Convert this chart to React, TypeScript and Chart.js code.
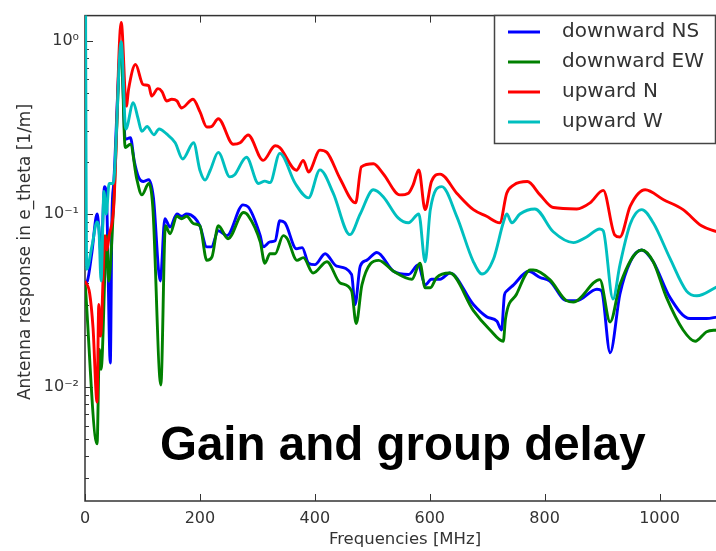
import React, { useEffect, useRef } from 'react';
import { Chart, registerables } from 'chart.js';

Chart.register(...registerables);

// ---- data (frequency in MHz, response in 1/m) ----
const nsFreq = [0, 4, 12, 21, 24, 28, 34, 38, 44, 47, 50, 63, 70, 79, 86, 93, 102, 111, 119, 131, 139, 148, 160, 168, 177, 191, 200, 212, 220, 232, 247, 275, 284, 305, 310, 322, 331, 339, 348, 368, 378, 389, 400, 418, 438, 464, 470, 479, 490, 508, 537, 563, 580, 592, 603, 618, 635, 676, 699, 717, 725, 730, 734, 746, 772, 792, 809, 838, 856, 891, 899, 914, 931, 949, 969, 989, 1018, 1053, 1082, 1100];
const nsVal = [0.04, 0.041, 0.06, 0.1, 0.085, 0.058, 0.144, 0.11, 0.0138, 0.1, 0.15, 0.95, 0.27, 0.276, 0.2, 0.164, 0.154, 0.158, 0.125, 0.041, 0.094, 0.084, 0.1, 0.097, 0.1, 0.095, 0.0855, 0.0646, 0.0646, 0.08, 0.075, 0.113, 0.11, 0.075, 0.0646, 0.069, 0.07, 0.0914, 0.089, 0.063, 0.064, 0.052, 0.051, 0.059, 0.05, 0.0447, 0.03, 0.05, 0.054, 0.06, 0.0467, 0.0447, 0.0508, 0.039, 0.042, 0.042, 0.0456, 0.03, 0.0255, 0.024, 0.0214, 0.034, 0.0359, 0.039, 0.0467, 0.043, 0.041, 0.0316, 0.0316, 0.0368, 0.036, 0.0158, 0.0344, 0.053, 0.062, 0.053, 0.033, 0.0249, 0.0249, 0.0254];

const ewFreq = [0, 21, 25, 28, 38, 41, 50, 63, 70, 79, 90, 99, 111, 118, 132, 140, 148, 160, 168, 177, 189, 200, 212, 221, 232, 249, 276, 284, 305, 313, 322, 331, 345, 352, 369, 380, 397, 421, 444, 464, 472, 482, 511, 537, 569, 583, 592, 601, 612, 635, 676, 705, 728, 732, 751, 775, 780, 809, 838, 850, 896, 914, 931, 969, 989, 1012, 1041, 1062, 1082, 1100];
const ewVal = [0.041, 0.0047, 0.0165, 0.0127, 0.075, 0.041, 0.116, 0.92, 0.242, 0.253, 0.16, 0.129, 0.15, 0.11, 0.0103, 0.0855, 0.077, 0.097, 0.094, 0.097, 0.088, 0.0855, 0.054, 0.0566, 0.0855, 0.072, 0.102, 0.098, 0.069, 0.052, 0.059, 0.059, 0.075, 0.072, 0.054, 0.056, 0.0456, 0.053, 0.04, 0.036, 0.0233, 0.039, 0.054, 0.0467, 0.042, 0.052, 0.0375, 0.0375, 0.043, 0.0456, 0.0277, 0.0214, 0.0184, 0.025, 0.0344, 0.0475, 0.0475, 0.0418, 0.0316, 0.031, 0.0418, 0.0238, 0.039, 0.062, 0.053, 0.033, 0.0214, 0.0184, 0.0209, 0.0214];

const upNFreq = [0, 8, 14, 21, 24, 27, 35, 38, 42, 50, 63, 72, 76, 88, 101, 111, 116, 127, 134, 142, 151, 160, 168, 188, 200, 212, 220, 232, 258, 270, 284, 310, 331, 339, 368, 380, 389, 409, 421, 444, 471, 481, 502, 519, 548, 563, 571, 581, 592, 603, 618, 647, 676, 699, 722, 734, 746, 770, 792, 815, 856, 879, 902, 922, 931, 949, 975, 1007, 1041, 1073, 1100];
const upNVal = [0.041, 0.035, 0.022, 0.0082, 0.03, 0.0197, 0.075, 0.062, 0.075, 0.11, 1.28, 0.42, 0.53, 0.73, 0.56, 0.55, 0.48, 0.53, 0.51, 0.45, 0.46, 0.45, 0.41, 0.46, 0.39, 0.318, 0.32, 0.355, 0.253, 0.258, 0.286, 0.204, 0.248, 0.242, 0.179, 0.204, 0.175, 0.234, 0.227, 0.16, 0.116, 0.187, 0.195, 0.171, 0.129, 0.132, 0.147, 0.18, 0.106, 0.154, 0.17, 0.132, 0.106, 0.097, 0.089, 0.132, 0.147, 0.154, 0.129, 0.109, 0.107, 0.116, 0.137, 0.0757, 0.0737, 0.111, 0.138, 0.121, 0.106, 0.0855, 0.079];

const upWFreq = [0, 3, 12, 21, 24, 28, 33, 37, 42, 49, 63, 71, 84, 92, 99, 108, 120, 129, 142, 157, 170, 189, 200, 209, 218, 232, 252, 260, 281, 302, 313, 322, 339, 366, 389, 409, 432, 461, 479, 502, 519, 545, 563, 581, 592, 601, 621, 647, 676, 691, 711, 728, 734, 743, 757, 783, 815, 850, 873, 896, 902, 919, 931, 949, 969, 989, 1018, 1047, 1065, 1100];
const upWVal = [20, 0.048, 0.065, 0.09, 0.084, 0.041, 0.135, 0.1, 0.15, 0.15, 0.99, 0.31, 0.44, 0.36, 0.3, 0.32, 0.287, 0.31, 0.29, 0.258, 0.208, 0.258, 0.179, 0.157, 0.179, 0.227, 0.164, 0.168, 0.213, 0.15, 0.155, 0.152, 0.224, 0.15, 0.124, 0.18, 0.132, 0.076, 0.1, 0.138, 0.126, 0.095, 0.089, 0.1, 0.053, 0.106, 0.144, 0.097, 0.053, 0.045, 0.055, 0.089, 0.1, 0.089, 0.1, 0.107, 0.079, 0.0684, 0.0737, 0.082, 0.08, 0.0323, 0.0508, 0.0875, 0.106, 0.089, 0.0556, 0.0359, 0.0337, 0.038];

const seriesLabels = ['downward NS', 'downward EW', 'upward N', 'upward W'];
const seriesColors = ['#0000ff', '#008000', '#ff0000', '#00bfbf'];
const xTicks = [0, 200, 400, 600, 800, 1000];
const yMajorLabels = ['10\u207B\u00B2', '10\u207B\u00B9', '10\u2070'];
const yMajorValues = [0.01, 0.1, 1];
const xTitle = 'Frequencies [MHz]';
const yTitle = 'Antenna response in e_theta [1/m]';
const overlayText = 'Gain and group delay';

const FONT = '"DejaVu Sans", sans-serif';

const toPoints = (fs: number[], vs: number[]) => fs.map((f, i) => ({ x: f, y: vs[i] }));

const decorPlugin = {
  id: 'decor',
  beforeDatasetsDraw(chart: any) {
    const { ctx, chartArea: ca, scales } = chart;
    const x = scales.x;
    const y = scales.y;
    ctx.save();
    ctx.strokeStyle = '#333';
    ctx.lineWidth = 1.5;
    ctx.strokeRect(ca.left, ca.top, ca.right - ca.left, ca.bottom - ca.top);
    ctx.lineWidth = 1;
    ctx.beginPath();
    for (const t of xTicks) {
      const px = Math.round(x.getPixelForValue(t)) + 0.5;
      ctx.moveTo(px, ca.bottom);
      ctx.lineTo(px, ca.bottom - 7);
      ctx.moveTo(px, ca.top);
      ctx.lineTo(px, ca.top + 7);
    }
    for (let d = -3; d <= 0; d++) {
      for (let m = 1; m <= 9; m++) {
        const v = m * Math.pow(10, d);
        if (v < y.min || v > y.max) continue;
        const py = Math.round(y.getPixelForValue(v)) + 0.5;
        const len = m === 1 ? 8 : 4;
        ctx.moveTo(ca.left, py);
        ctx.lineTo(ca.left + len, py);
      }
    }
    ctx.stroke();
    ctx.restore();
  },
  afterDatasetsDraw(chart: any) {
    const { ctx, chartArea: ca } = chart;
    ctx.save();
    // legend
    const lx = 494.5, ly = 15.5, lw = 221, lh = 128;
    ctx.fillStyle = '#ffffff';
    ctx.fillRect(lx, ly, lw, lh);
    ctx.strokeStyle = '#444';
    ctx.lineWidth = 1.5;
    ctx.strokeRect(lx, ly, lw, lh);
    ctx.font = `20px ${FONT}`;
    ctx.textBaseline = 'middle';
    ctx.textAlign = 'left';
    chart.data.datasets.forEach((ds: any, i: number) => {
      const cy = 32 + i * 30;
      ctx.strokeStyle = ds.borderColor;
      ctx.lineWidth = 3;
      ctx.beginPath();
      ctx.moveTo(508, cy);
      ctx.lineTo(540, cy);
      ctx.stroke();
      ctx.fillStyle = '#333';
      ctx.fillText(ds.label, 562, cy);
    });
    // axis titles
    ctx.fillStyle = '#333';
    ctx.font = `16.5px ${FONT}`;
    ctx.textAlign = 'center';
    ctx.textBaseline = 'middle';
    ctx.fillText(xTitle, (ca.left + ca.right) / 2 + 4, 540);
    ctx.save();
    ctx.translate(26, 252);
    ctx.rotate(-Math.PI / 2);
    ctx.font = `17px ${FONT}`;
    ctx.fillText(yTitle, 0, 0);
    ctx.restore();
    // overlay
    ctx.fillStyle = '#000';
    ctx.font = 'bold 47.5px "Liberation Sans", Arial, sans-serif';
    ctx.textAlign = 'left';
    ctx.textBaseline = 'alphabetic';
    ctx.fillText(overlayText, 160, 460);
    ctx.restore();
  },
};

export default function App() {
  const ref = useRef<HTMLCanvasElement | null>(null);
  useEffect(() => {
    if (!ref.current) return;
    const series = [
      toPoints(nsFreq, nsVal),
      toPoints(ewFreq, ewVal),
      toPoints(upNFreq, upNVal),
      toPoints(upWFreq, upWVal),
    ];
    const chart = new Chart(ref.current, {
      type: 'line',
      data: {
        datasets: series.map((pts, i) => ({
          label: seriesLabels[i],
          data: pts,
          borderColor: seriesColors[i],
          backgroundColor: seriesColors[i],
          borderWidth: 2.9,
          pointRadius: 0,
          cubicInterpolationMode: 'monotone',
          fill: false,
          order: 4 - i,
        })),
      },
      options: {
        animation: false,
        responsive: false,
        maintainAspectRatio: false,
        layout: { padding: { top: 5, right: 2, left: 0, bottom: 0 } },
        plugins: { legend: { display: false }, tooltip: { enabled: false } },
        scales: {
          x: {
            type: 'linear',
            min: 0,
            max: 1100,
            grid: { display: false, drawTicks: false },
            border: { display: false },
            ticks: {
              stepSize: 200,
              includeBounds: false,
              autoSkip: false,
              maxRotation: 0,
              padding: 8,
              color: '#333',
              font: { family: FONT, size: 16 },
              callback: (v: any) => String(v),
            },
            afterFit: (s: any) => { s.height = 50; },
          },
          y: {
            type: 'logarithmic',
            min: 0.0022,
            max: 1.4,
            grid: { display: false, drawTicks: false },
            border: { display: false },
            ticks: {
              autoSkip: false,
              padding: 6,
              color: '#333',
              font: { family: FONT, size: 16 },
              callback: (v: any) => {
                const idx = yMajorValues.findIndex((m) => Math.abs(Number(v) / m - 1) < 1e-6);
                return idx >= 0 ? yMajorLabels[idx] : '';
              },
            },
            afterFit: (s: any) => { s.width = 85; },
          },
        },
      },
      plugins: [decorPlugin],
    } as any);
    return () => chart.destroy();
  }, []);
  return (
    <div style={{ position: 'absolute', left: 0, top: 0, width: 716, height: 551, overflow: 'hidden', background: '#fff' }}>
      <canvas ref={ref} width={719} height={551} style={{ display: 'block' }} />
    </div>
  );
}
